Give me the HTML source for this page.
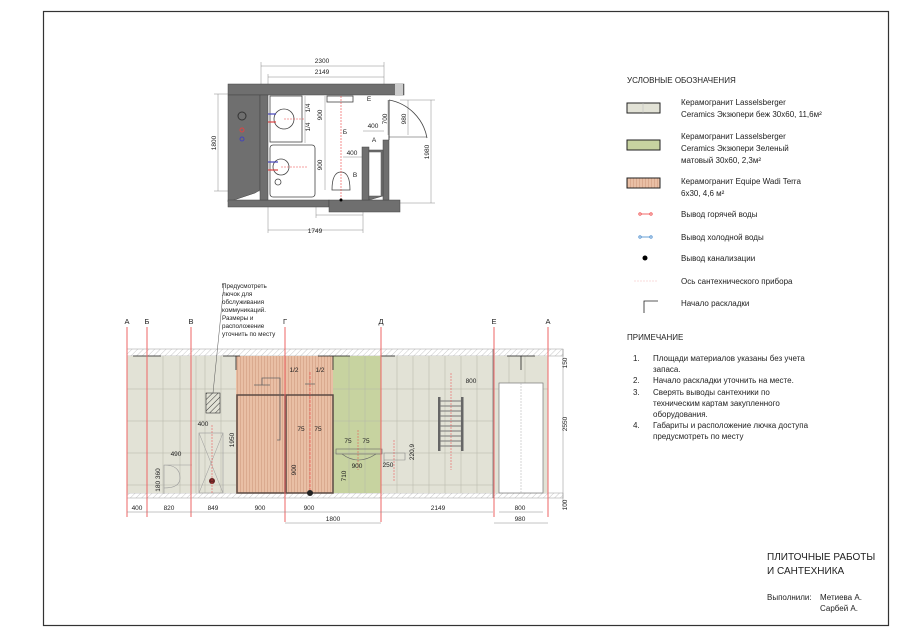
<!DOCTYPE html>
<html><head><meta charset="utf-8"><style>
body{margin:0;background:#fff}
svg{display:block}
text{font-family:"Liberation Sans","DejaVu Sans",sans-serif;fill:#222}
</style></head><body>
<svg width="900" height="636" viewBox="0 0 900 636" xmlns="http://www.w3.org/2000/svg">
<defs>
<pattern id="hat" width="4" height="4" patternUnits="userSpaceOnUse" patternTransform="rotate(45)"><line x1="0" y1="0" x2="0" y2="4" stroke="#bbb" stroke-width="0.8"/></pattern>
<pattern id="hat2" width="4" height="4" patternUnits="userSpaceOnUse" patternTransform="rotate(45)"><line x1="0" y1="0" x2="0" y2="4" stroke="#333" stroke-width="1"/></pattern>
<pattern id="terra" width="3" height="10" patternUnits="userSpaceOnUse"><rect width="3" height="10" fill="#e9bfa5"/><line x1="0.5" y1="0" x2="0.5" y2="10" stroke="#d19c80" stroke-width="0.6"/></pattern>
</defs>
<rect width="900" height="636" fill="#fff"/>
<!-- frame -->
<rect x="43.5" y="11.5" width="845" height="614" fill="none" stroke="#333" stroke-width="1.2"/>

<!-- ============ PLAN ============ -->
<g stroke="#888" stroke-width="0.5" fill="none">
<line x1="261" y1="66" x2="384" y2="66"/><line x1="268" y1="77" x2="384" y2="77"/>
<line x1="261" y1="62" x2="261" y2="95"/><line x1="384" y1="62" x2="384" y2="95"/><line x1="268" y1="74" x2="268" y2="95"/>
<line x1="218" y1="94" x2="218" y2="191"/><line x1="214" y1="94" x2="262" y2="94"/><line x1="214" y1="191" x2="262" y2="191"/>
<line x1="431" y1="100" x2="431" y2="203"/><line x1="400" y1="100" x2="435" y2="100"/><line x1="400" y1="203" x2="435" y2="203"/>
<line x1="316" y1="215" x2="363" y2="215"/><line x1="268" y1="230" x2="363" y2="230"/>
<line x1="316" y1="200" x2="316" y2="218"/><line x1="363" y1="190" x2="363" y2="233"/><line x1="268" y1="200" x2="268" y2="233"/>
<line x1="305" y1="96" x2="305" y2="143"/><line x1="325" y1="96" x2="325" y2="190"/>
<line x1="388" y1="100" x2="388" y2="135"/><line x1="408" y1="100" x2="408" y2="135"/>
<line x1="363" y1="131" x2="384" y2="131"/><line x1="343" y1="157" x2="363" y2="157"/>
</g>
<g font-size="6.5" text-anchor="middle">
<text x="322" y="63">2300</text><text x="322" y="74">2149</text>
<text x="340" y="212">849</text><text x="315" y="233">1749</text>
<text x="373" y="128">400</text><text x="352" y="155">400</text>
<text transform="translate(216,143) rotate(-90)">1800</text>
<text transform="translate(429,152) rotate(-90)">1980</text>
<text transform="translate(322,115) rotate(-90)">900</text>
<text transform="translate(322,165) rotate(-90)">900</text>
<text transform="translate(387,119) rotate(-90)">700</text>
<text transform="translate(406,119) rotate(-90)">980</text>
<text transform="translate(310,108) rotate(-90)">1/4</text>
<text transform="translate(310,127) rotate(-90)">1/4</text>
<text transform="translate(310,156) rotate(-90)">1/4</text>
<text transform="translate(310,178) rotate(-90)">1/4</text>
<text x="282" y="101">Д</text><text x="369" y="101">Е</text><text x="345" y="134">Б</text><text x="374" y="142">А</text><text x="355" y="177">В</text><text x="287" y="184">Г</text>
</g>
<!-- walls -->
<g fill="#6f6f6f" stroke="#444" stroke-width="0.5">
<rect x="228" y="84" width="176" height="11"/>
<polygon points="228,95 260,95 260,190 255,193 228,202"/>
<rect x="228" y="200" width="101" height="7"/>
<rect x="329" y="200" width="71" height="12"/>
<rect x="260" y="95" width="8" height="105"/>
<rect x="362" y="147" width="7" height="53"/>
<rect x="383" y="140" width="6" height="60"/>
<polygon points="369,150 383,150 383,196 369,200"/>
</g>
<rect x="369" y="152" width="12" height="44" fill="#fff" stroke="#555" stroke-width="0.5"/>
<rect x="395" y="84" width="8" height="11" fill="#ccc"/>
<!-- fixtures -->
<g fill="#fff" stroke="#444" stroke-width="0.8">
<rect x="270" y="96" width="32" height="46"/>
<circle cx="284" cy="119" r="10"/>
<rect x="270" y="145" width="45" height="52" rx="3"/>
<circle cx="281" cy="167" r="8"/>
<circle cx="278" cy="182" r="3"/>
<path d="M332,190 Q332,172 341,172 Q350,172 350,190 Z"/>
<rect x="327" y="96" width="26" height="6"/>
</g>
<path d="M389,100 A47 47 0 0 1 427,138" fill="none" stroke="#444" stroke-width="0.8"/>
<line x1="389" y1="100" x2="389" y2="140" stroke="#444" stroke-width="1"/>
<line x1="389" y1="137" x2="427" y2="137" stroke="#444" stroke-width="0.6"/>
<circle cx="242" cy="116" r="4" fill="none" stroke="#333"/>
<circle cx="242" cy="130" r="2" fill="none" stroke="#d44"/><circle cx="242" cy="139" r="2" fill="none" stroke="#44b"/>
<g stroke="#e44" stroke-width="0.6" stroke-dasharray="2,1">
<line x1="341" y1="96" x2="341" y2="200"/><line x1="284" y1="119" x2="305" y2="119"/><line x1="281" y1="167" x2="308" y2="167"/>
</g>
<g stroke-width="1.2"><line x1="268" y1="114" x2="276" y2="114" stroke="#44b"/><line x1="268" y1="122" x2="276" y2="122" stroke="#d44"/>
<line x1="268" y1="162" x2="278" y2="162" stroke="#44b"/><line x1="268" y1="170" x2="278" y2="170" stroke="#d44"/></g>
<circle cx="341" cy="200" r="1.5" fill="#000"/>

<!-- ============ ELEVATION ============ -->
<rect x="127" y="349" width="436" height="7" fill="url(#hat)" stroke="#999" stroke-width="0.5"/>
<rect x="127" y="493" width="436" height="5" fill="url(#hat)" stroke="#999" stroke-width="0.5"/>
<rect x="127" y="356" width="366" height="137" fill="#e2e2d6"/>
<rect x="493" y="356" width="55" height="137" fill="#e2e2d6"/>
<rect x="236" y="356" width="97" height="137" fill="url(#terra)"/>
<rect x="333" y="356" width="48" height="137" fill="#c7d3a0"/>
<g stroke="#b5b5a8" stroke-width="0.5">
<line x1="127" y1="389" x2="236" y2="389"/><line x1="127" y1="421" x2="236" y2="421"/><line x1="127" y1="453" x2="236" y2="453"/><line x1="127" y1="485" x2="236" y2="485"/>
<line x1="381" y1="389" x2="548" y2="389"/><line x1="381" y1="421" x2="493" y2="421"/><line x1="381" y1="453" x2="493" y2="453"/><line x1="381" y1="485" x2="493" y2="485"/>
<line x1="333" y1="389" x2="381" y2="389"/><line x1="333" y1="421" x2="381" y2="421"/><line x1="333" y1="453" x2="381" y2="453"/>
<line x1="147" y1="356" x2="147" y2="493"/><line x1="163" y1="356" x2="163" y2="493"/><line x1="180" y1="356" x2="180" y2="493"/><line x1="196" y1="356" x2="196" y2="493"/><line x1="205" y1="356" x2="205" y2="493"/><line x1="221" y1="356" x2="221" y2="493"/>
<line x1="349" y1="356" x2="349" y2="493"/><line x1="365" y1="356" x2="365" y2="493"/>
<line x1="397" y1="356" x2="397" y2="493"/><line x1="413" y1="356" x2="413" y2="493"/><line x1="429" y1="356" x2="429" y2="493"/><line x1="445" y1="356" x2="445" y2="493"/><line x1="461" y1="356" x2="461" y2="493"/><line x1="477" y1="356" x2="477" y2="493"/>
<line x1="509" y1="356" x2="509" y2="383"/><line x1="525" y1="356" x2="525" y2="383"/>
</g>
<line x1="493" y1="349" x2="493" y2="498" stroke="#777" stroke-width="0.8"/>
<!-- door -->
<rect x="499" y="383" width="44" height="110" fill="#fff" stroke="#777" stroke-width="0.7"/>
<line x1="521" y1="383" x2="521" y2="493" stroke="#aaa" stroke-width="0.5" stroke-dasharray="2,1"/>
<!-- shower -->
<rect x="237" y="395" width="48" height="98" fill="none" stroke="#5a4a44" stroke-width="1.5"/>
<rect x="286" y="395" width="47" height="98" fill="none" stroke="#5a4a44" stroke-width="1.5"/>
<path d="M262,385 V378 H280 V440 H277" fill="none" stroke="#666" stroke-width="0.8"/>
<line x1="254" y1="385" x2="270" y2="385" stroke="#666" stroke-width="0.8"/>
<line x1="305" y1="384" x2="315" y2="384" stroke="#666" stroke-width="0.8"/>
<line x1="310" y1="372" x2="310" y2="493" stroke="#e44" stroke-width="0.6" stroke-dasharray="3,1"/>
<circle cx="310" cy="493" r="3" fill="#222"/>
<!-- access hatch -->
<rect x="206" y="393" width="14" height="20" fill="url(#hat2)" stroke="#333" stroke-width="0.6"/>
<line x1="213" y1="393" x2="224" y2="284" stroke="#555" stroke-width="0.5"/>
<line x1="224" y1="284" x2="222" y2="284" stroke="#555"/>
<!-- toilet/installation -->
<rect x="199" y="433" width="24" height="60" fill="none" stroke="#999" stroke-width="0.6"/>
<line x1="199" y1="433" x2="223" y2="493" stroke="#999" stroke-width="0.5"/><line x1="223" y1="433" x2="199" y2="493" stroke="#999" stroke-width="0.5"/>
<circle cx="212" cy="481" r="3" fill="#622"/>
<path d="M164,494 V465 H192 M164,465 Q180,465 180,478 Q180,488 164,488" fill="none" stroke="#999" stroke-width="0.6"/>
<line x1="212" y1="425" x2="212" y2="493" stroke="#e44" stroke-width="0.5" stroke-dasharray="2,1"/>
<!-- sink -->
<rect x="336" y="449" width="46" height="5" fill="none" stroke="#666" stroke-width="0.6"/>
<path d="M342,454 Q358,466 376,454" fill="none" stroke="#666" stroke-width="0.6"/>
<path d="M384,465 V453 H405 V460 H384" fill="none" stroke="#888" stroke-width="0.6"/>
<line x1="394" y1="440" x2="394" y2="482" stroke="#e44" stroke-width="0.5" stroke-dasharray="2,1"/>
<line x1="358" y1="430" x2="358" y2="470" stroke="#e44" stroke-width="0.5" stroke-dasharray="2,1"/>
<!-- radiator -->
<rect x="438" y="397" width="2.5" height="54" fill="#666"/><rect x="461" y="397" width="2.5" height="54" fill="#666"/>
<g stroke="#777" stroke-width="1"><line x1="440" y1="401" x2="461" y2="401"/><line x1="440" y1="406" x2="461" y2="406"/><line x1="440" y1="411" x2="461" y2="411"/><line x1="440" y1="416" x2="461" y2="416"/><line x1="440" y1="421" x2="461" y2="421"/><line x1="440" y1="426" x2="461" y2="426"/><line x1="440" y1="431" x2="461" y2="431"/><line x1="440" y1="436" x2="461" y2="436"/><line x1="440" y1="441" x2="461" y2="441"/><line x1="440" y1="446" x2="461" y2="446"/></g>
<line x1="451" y1="373" x2="451" y2="470" stroke="#e44" stroke-width="0.5" stroke-dasharray="2,1"/>
<!-- layout start markers -->
<g stroke="#222" stroke-width="0.8"><line x1="133" y1="356" x2="161" y2="356"/><line x1="147" y1="356" x2="147" y2="370"/>
<line x1="223" y1="356" x2="240" y2="356"/><line x1="236" y1="356" x2="236" y2="370"/>
<line x1="318" y1="356" x2="350" y2="356"/><line x1="333" y1="356" x2="333" y2="370"/>
<line x1="381" y1="356" x2="395" y2="356"/><line x1="381" y1="356" x2="381" y2="370"/>
<line x1="507" y1="356" x2="535" y2="356"/><line x1="521" y1="356" x2="521" y2="370"/></g>
<!-- red axis lines -->
<g stroke="#e66" stroke-width="1">
<line x1="127" y1="327" x2="127" y2="517"/><line x1="147" y1="327" x2="147" y2="517"/><line x1="191" y1="327" x2="191" y2="517"/>
<line x1="285" y1="327" x2="285" y2="522"/><line x1="381" y1="327" x2="381" y2="522"/><line x1="494" y1="327" x2="494" y2="517"/><line x1="548" y1="327" x2="548" y2="517"/>
</g>
<g font-size="7.5" fill="#d33" text-anchor="middle">
<text x="127" y="324" fill="#d33">А</text><text x="147" y="324" fill="#d33">Б</text><text x="191" y="324" fill="#d33">В</text><text x="285" y="324" fill="#d33">Г</text><text x="381" y="324" fill="#d33">Д</text><text x="494" y="324" fill="#d33">Е</text><text x="548" y="324" fill="#d33">А</text>
</g>
<!-- dims -->
<g stroke="#888" stroke-width="0.5">
<line x1="127" y1="512" x2="493" y2="512"/><line x1="499" y1="512" x2="543" y2="512"/>
<line x1="285" y1="523" x2="381" y2="523"/><line x1="494" y1="523" x2="548" y2="523"/>
<line x1="563" y1="349" x2="563" y2="508"/>
</g>
<g font-size="6.5" text-anchor="middle">
<text x="137" y="510">400</text><text x="169" y="510">820</text><text x="213" y="510">849</text><text x="260" y="510">900</text><text x="309" y="510">900</text><text x="438" y="510">2149</text><text x="520" y="510">800</text>
<text x="333" y="521">1800</text><text x="520" y="521">980</text>
<text x="203" y="426">400</text><text x="176" y="456">490</text><text x="294" y="372">1/2</text><text x="320" y="372">1/2</text>
<text x="301" y="431">75</text><text x="318" y="431">75</text><text x="348" y="443">75</text><text x="366" y="443">75</text>
<text x="357" y="468">900</text><text x="388" y="467">250</text><text x="471" y="383">800</text>
<text transform="translate(234,440) rotate(-90)">1950</text>
<text transform="translate(296,470) rotate(-90)">900</text>
<text transform="translate(346,476) rotate(-90)">710</text>
<text transform="translate(160,480) rotate(-90)">180 360</text>
<text transform="translate(414,452) rotate(-90)">220,9</text>
<text transform="translate(567,363) rotate(-90)">150</text>
<text transform="translate(567,424) rotate(-90)">2550</text>
<text transform="translate(567,505) rotate(-90)">100</text>
</g>
<g font-size="6.3">
<text x="222" y="288">Предусмотреть</text><text x="222" y="296">лючок для</text><text x="222" y="304">обслуживания</text><text x="222" y="312">коммуникаций.</text><text x="222" y="320">Размеры и</text><text x="222" y="328">расположение</text><text x="222" y="336">уточнить по месту</text>
</g>

<!-- ============ LEGEND ============ -->
<text x="627" y="83" font-size="8">УСЛОВНЫЕ ОБОЗНАЧЕНИЯ</text>
<rect x="627" y="103" width="33" height="10" fill="#e2e2d6" stroke="#222" stroke-width="1"/><line x1="643" y1="103" x2="643" y2="113" stroke="#bbb" stroke-width="0.5"/>
<rect x="627" y="140" width="33" height="10" fill="#c7d3a0" stroke="#222" stroke-width="1"/>
<rect x="627" y="178" width="33" height="10" fill="url(#terra)" stroke="#222" stroke-width="1"/>
<g font-size="8">
<text x="681" y="105">Керамогранит Lasselsberger</text><text x="681" y="117">Ceramics Экзюпери беж 30х60, 11,6м²</text>
<text x="681" y="139">Керамогранит Lasselsberger</text><text x="681" y="151">Ceramics Экзюпери Зеленый</text><text x="681" y="163">матовый 30х60, 2,3м²</text>
<text x="681" y="184">Керамогранит Equipe Wadi Terra</text><text x="681" y="196">6х30, 4,6 м²</text>
<text x="681" y="217">Вывод горячей воды</text>
<text x="681" y="240">Вывод холодной воды</text>
<text x="681" y="261">Вывод канализации</text>
<text x="681" y="284">Ось сантехнического прибора</text>
<text x="681" y="306">Начало раскладки</text>
</g>
<g stroke-width="0.8"><line x1="639" y1="214" x2="652" y2="214" stroke="#e44"/><circle cx="640" cy="214" r="1.2" fill="#fff" stroke="#e44"/><circle cx="651" cy="214" r="1.2" fill="#fff" stroke="#e44"/>
<line x1="639" y1="237" x2="652" y2="237" stroke="#48c"/><circle cx="640" cy="237" r="1.2" fill="#fff" stroke="#48c"/><circle cx="651" cy="237" r="1.2" fill="#fff" stroke="#48c"/></g>
<circle cx="645" cy="258" r="2.5" fill="#000"/>
<line x1="634" y1="281" x2="658" y2="281" stroke="#f2b8b8" stroke-width="0.6" stroke-dasharray="2,1"/>
<path d="M644,313 V301 H658" fill="none" stroke="#222" stroke-width="0.8"/>

<text x="627" y="340" font-size="8">ПРИМЕЧАНИЕ</text>
<g font-size="8">
<text x="633" y="361">1.</text><text x="653" y="361">Площади материалов указаны без учета</text><text x="653" y="372">запаса.</text>
<text x="633" y="383">2.</text><text x="653" y="383">Начало раскладки уточнить на месте.</text>
<text x="633" y="395">3.</text><text x="653" y="395">Сверять выводы сантехники по</text><text x="653" y="406">техническим картам закупленного</text><text x="653" y="417">оборудования.</text>
<text x="633" y="428">4.</text><text x="653" y="428">Габариты и расположение лючка доступа</text><text x="653" y="439">предусмотреть по месту</text>
</g>
<text x="767" y="560" font-size="10">ПЛИТОЧНЫЕ РАБОТЫ</text>
<text x="767" y="574" font-size="10">И САНТЕХНИКА</text>
<text x="767" y="600" font-size="8">Выполнили:</text>
<text x="820" y="600" font-size="8">Метиева А.</text>
<text x="820" y="611" font-size="8">Сарбей А.</text>
</svg>
</body></html>
